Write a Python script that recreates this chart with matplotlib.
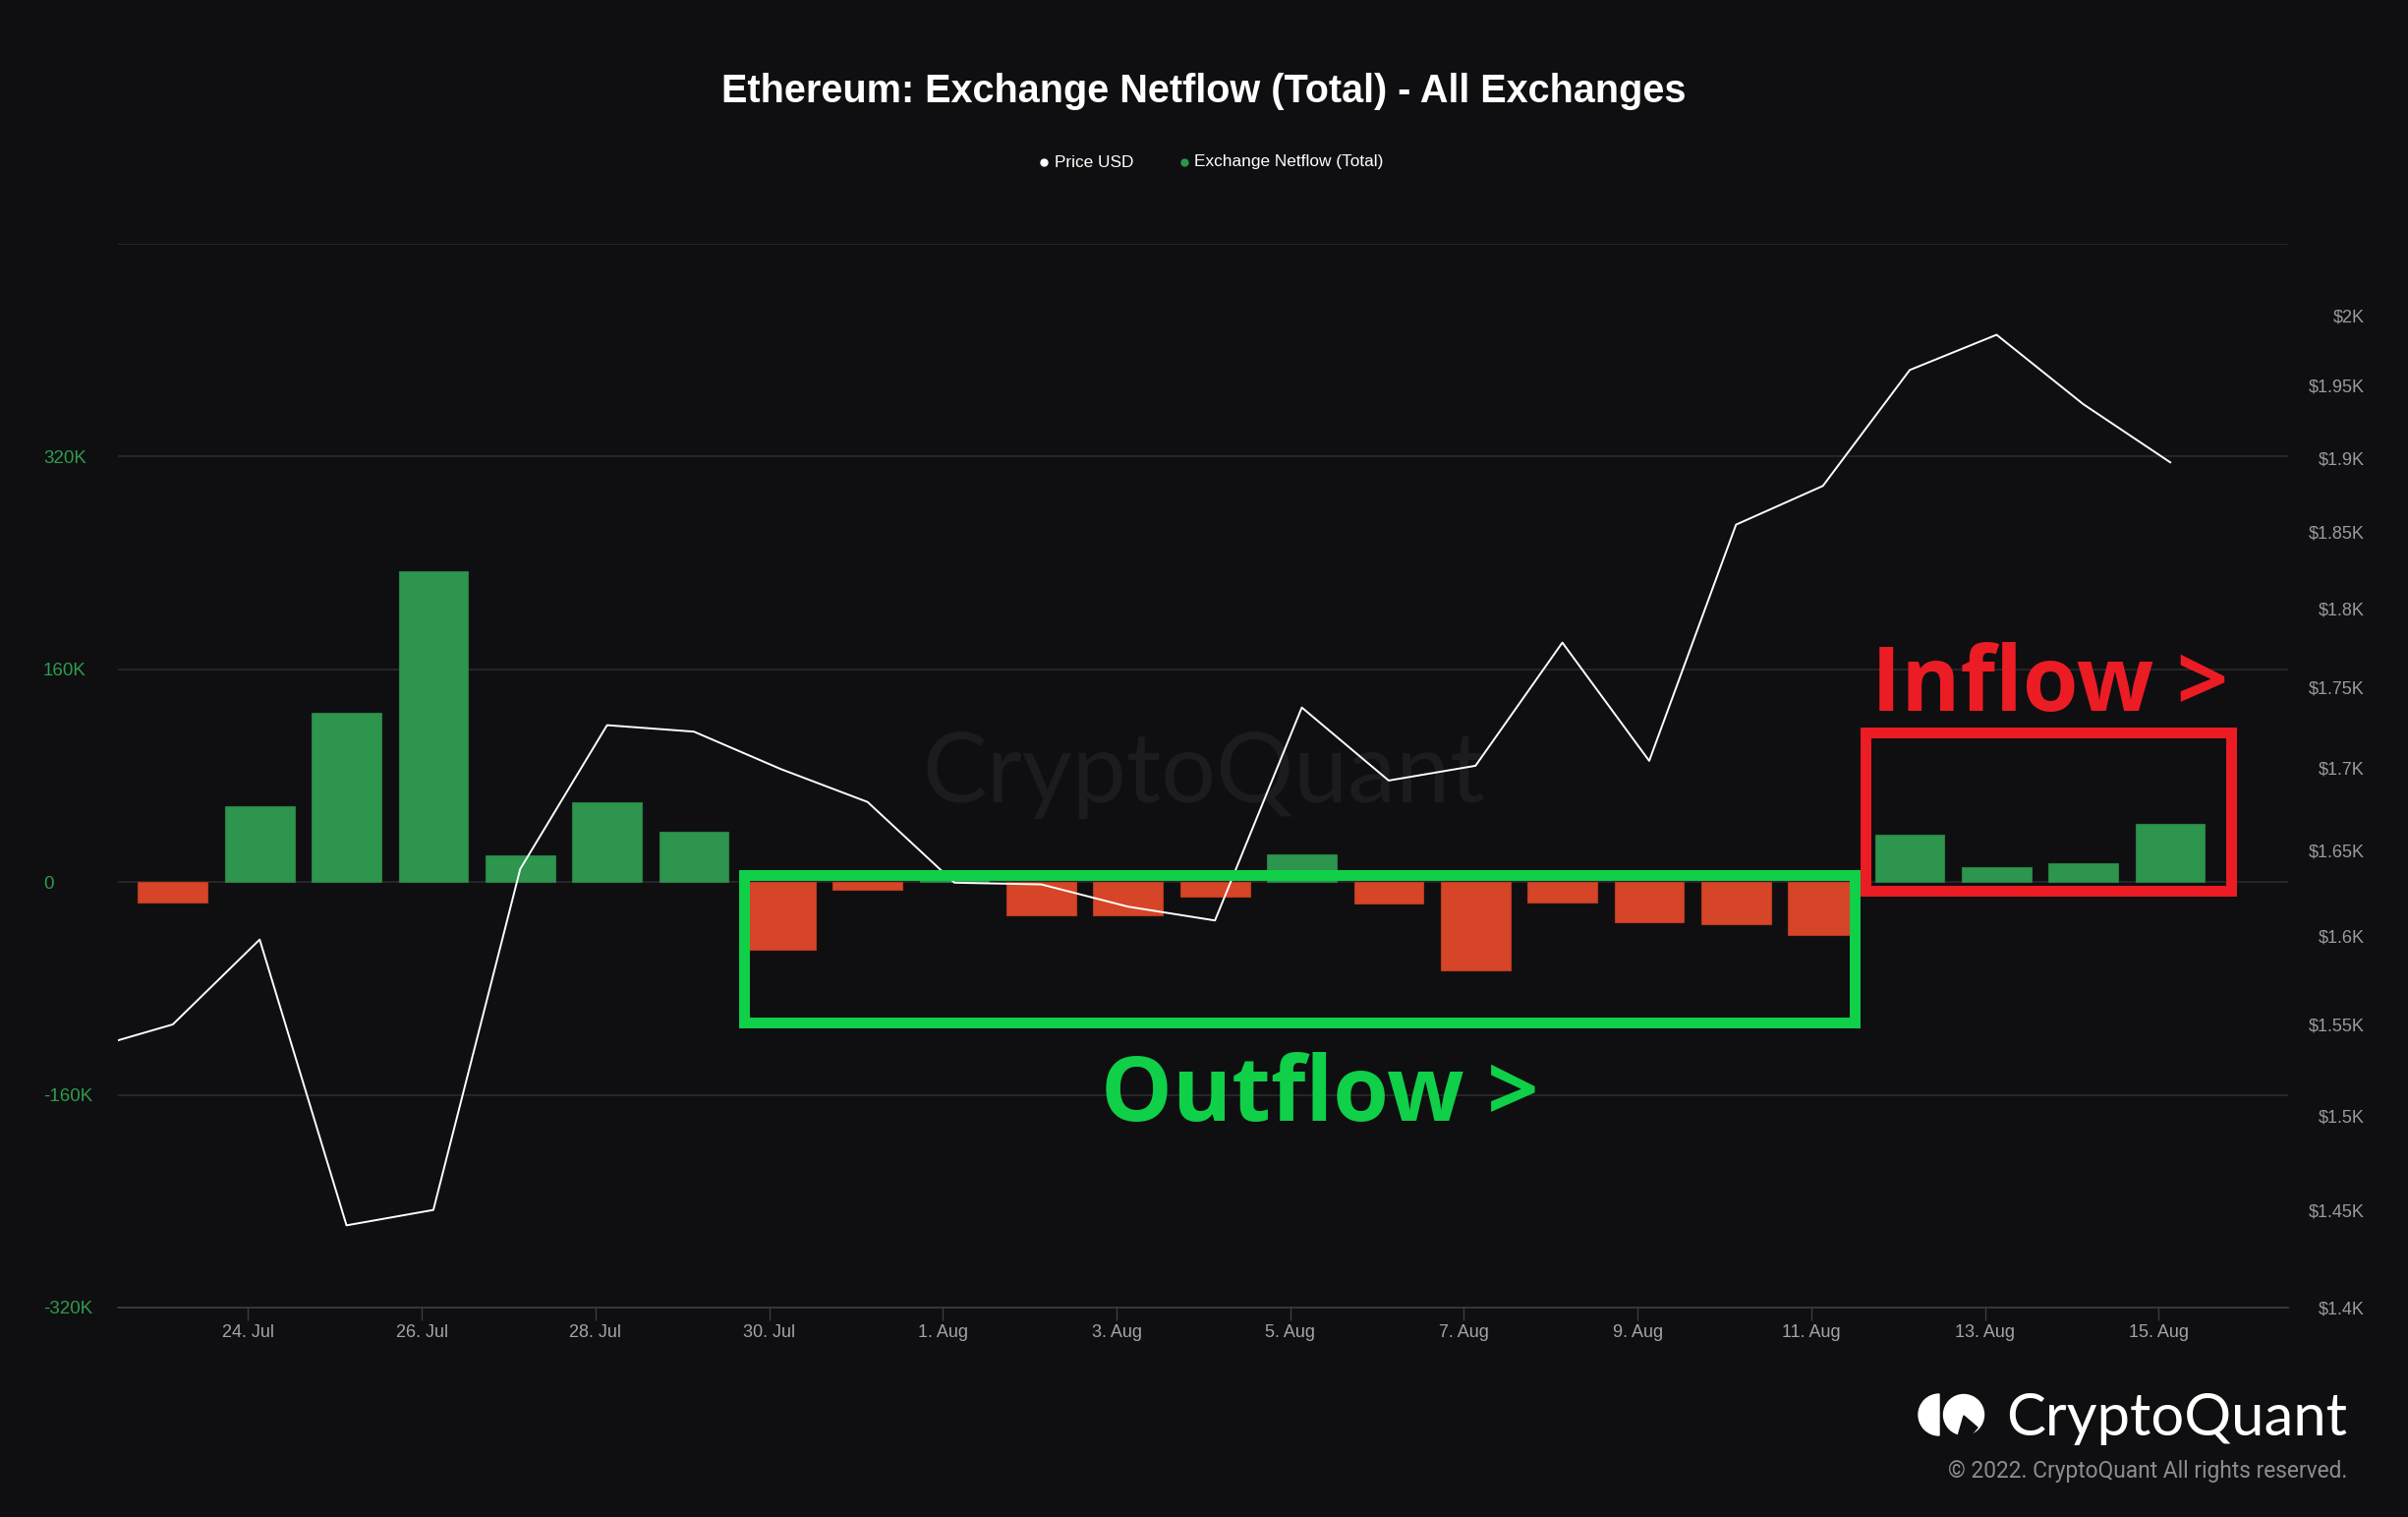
import numpy as np
import pandas as pd
import matplotlib
matplotlib.use('Agg')
import matplotlib.pyplot as plt
from matplotlib.patches import Rectangle, Wedge, Circle, Polygon
from matplotlib.lines import Line2D
from matplotlib.ticker import FixedLocator, FuncFormatter, NullLocator
from matplotlib.transforms import Affine2D

# ---------------- data ----------------
price_dates = pd.date_range('2022-07-22', '2022-08-15', freq='D')
price_usd = [1536, 1550, 1598, 1442, 1450, 1639, 1726, 1722, 1699, 1679,
             1631, 1630, 1617, 1609, 1737, 1692, 1701, 1778, 1704, 1855,
             1881, 1961, 1986, 1937, 1897]
flow_dates = pd.date_range('2022-07-23', '2022-08-15', freq='D')
netflow_k = [-15.6, 56.8, 127.0, 234.0, 19.8, 60.3, 37.7, -50.7, -5.9, 4.0,
             -24.8, -24.8, -11.1, 20.5, -16.3, -66.3, -15.6, -30.4, -31.4, -39.8,
             35.4, 10.9, 14.1, 43.8]
left_ticks_k = [-320, -160, 0, 160, 320, 480]
left_labels = ['-320K', '-160K', '0', '160K', '320K', '']
right_ticks = [1400, 1450, 1500, 1550, 1600, 1650, 1700, 1750, 1800, 1850, 1900, 1950, 2000]
x_tick_dates = pd.date_range('2022-07-24', '2022-08-15', freq='2D')

title = 'Ethereum: Exchange Netflow (Total) - All Exchanges'

# ---------------- style ----------------
W, H = 2450, 1543
BG = '#0f0f11'
GREEN = '#2e954e'
RED = '#d64527'
GRID = '#2a2a2e'
BOX_GREEN = '#10cf48'
BOX_RED = '#ec1c24'

plt.rcParams['font.family'] = ['Liberation Sans', 'DejaVu Sans']

fig = plt.figure(figsize=(W / 100, H / 100), dpi=100, facecolor=BG)
pix = Affine2D().scale(1, -1).translate(0, H)  # pixel coords, y down

L, R, T, B = 120, 2328, 248, 1330
ax = fig.add_axes([L / W, 1 - B / H, (R - L) / W, (B - T) / H])
ax.set_facecolor('none')
ax2 = ax.twinx()
ax2.set_facecolor('none')

offset = pd.Timedelta(hours=3.2)
bx = flow_dates + offset
px = price_dates + offset

colors = [GREEN if v >= 0 else RED for v in netflow_k]
edges = ['#287f43' if v >= 0 else '#b8391f' for v in netflow_k]
ax.bar(bx, netflow_k, width=0.8, color=colors, edgecolor=edges, linewidth=0.8, zorder=2)

ax.set_ylim(-320, 480)
ax.yaxis.set_major_locator(FixedLocator(left_ticks_k))
ax.yaxis.set_major_formatter(FuncFormatter(lambda v, p: left_labels[left_ticks_k.index(int(round(v)))] if int(round(v)) in left_ticks_k else ''))
ax.grid(axis='y', color=GRID, linewidth=1.2, zorder=0)
ax.set_axisbelow(True)
ax.tick_params(axis='y', length=0, pad=54.7, labelsize=13.5, labelcolor='#2e9b4e')
for lbl in ax.get_yticklabels():
    lbl.set_ha('left')

xl = pd.Timestamp('2022-07-24') - pd.Timedelta(days=1.4986)
xr = pd.Timestamp('2022-08-15') + pd.Timedelta(days=1.49)
ax.set_xlim(xl, xr)
ax.set_xticks(x_tick_dates)
ax.set_xticklabels([f"{d.day}. {d.strftime('%b')}" for d in x_tick_dates])
ax.tick_params(axis='x', length=9.4, width=1, color='#3c3c42', pad=3,
               labelsize=13, labelcolor='#a3a3a8')

for s in ['top', 'left', 'right']:
    ax.spines[s].set_visible(False)
    ax2.spines[s].set_visible(False)
ax.spines['bottom'].set_color('#3c3c42')
ax.spines['bottom'].set_linewidth(1.2)
ax2.spines['bottom'].set_visible(False)

ax2.plot(px, price_usd, color='white', linewidth=1.4, zorder=3)
ax2.set_yscale('log')
ax2.set_ylim(1400, 2052)
ax2.yaxis.set_major_locator(FixedLocator(right_ticks))
ax2.yaxis.set_minor_locator(NullLocator())
ax2.yaxis.set_major_formatter(FuncFormatter(lambda v, p: f"${v / 1000:g}K"))
ax2.tick_params(axis='y', which='both', length=0, pad=56.2, labelsize=13, labelcolor='#9a9aa0')
for lbl in ax2.get_yticklabels():
    lbl.set_ha('right')
ax2.set_xlim(xl, xr)

# watermark
ax.text(1225, 816, 'CryptoQuant', transform=pix, ha='center', va='baseline',
        fontsize=71, color='#1c1c20', family=['Lato', 'DejaVu Sans'], zorder=0.5)

# title and legend
fig.text(1225, 93, title, transform=pix, ha='center', va='center',
         fontsize=28.5, fontweight='bold', color='white')
fig.add_artist(Line2D([1062], [165], transform=pix, marker='o', markersize=5,
                      color='white', linestyle='none'))
fig.text(1073, 165, 'Price USD', transform=pix, ha='left', va='center', fontsize=12.4, color='white')
fig.add_artist(Line2D([1205], [165], transform=pix, marker='o', markersize=5,
                      color=GREEN, linestyle='none'))
fig.text(1215, 165, 'Exchange Netflow (Total)', transform=pix, ha='left', va='center', fontsize=12.4, color='white')

# annotation boxes
fig.add_artist(Rectangle((756.5, 889.5), 1130, 150, transform=pix, fill=False,
                         edgecolor=BOX_GREEN, linewidth=7.9, joinstyle='miter', zorder=5))
fig.add_artist(Rectangle((1897.5, 744.5), 372, 161, transform=pix, fill=False,
                         edgecolor=BOX_RED, linewidth=7.9, joinstyle='miter', zorder=5))
fig.text(1120, 1140, 'Outflow >', transform=pix, ha='left', va='baseline', fontsize=66,
         fontweight='bold', color=BOX_GREEN, family=['Open Sans', 'DejaVu Sans'], zorder=6)
fig.text(1904, 723, 'Inflow >', transform=pix, ha='left', va='baseline', fontsize=66,
         fontweight='bold', color=BOX_RED, family=['Open Sans', 'DejaVu Sans'], zorder=6)

# logo
fig.add_artist(Wedge((1973, 1439), 21, 90, 270, transform=pix, color='white'))
fig.add_artist(Circle((1998, 1439), 20.5, transform=pix, color='white'))
fig.add_artist(Polygon([(1998, 1440), (2012, 1452), (2004, 1461), (1992, 1461)], closed=True,
                       transform=pix, color=BG))
fig.text(2388, 1460, 'CryptoQuant', transform=pix, ha='right', va='baseline', fontsize=43,
         color='white', family=['Lato', 'DejaVu Sans'])
fig.text(2388, 1497, '\u00a9 2022. CryptoQuant All rights reserved.', transform=pix,
         ha='right', va='center', fontsize=16.4, color='#8c8c90', family=['Roboto', 'DejaVu Sans'])

fig.savefig('out.png', dpi=100, facecolor=BG)
